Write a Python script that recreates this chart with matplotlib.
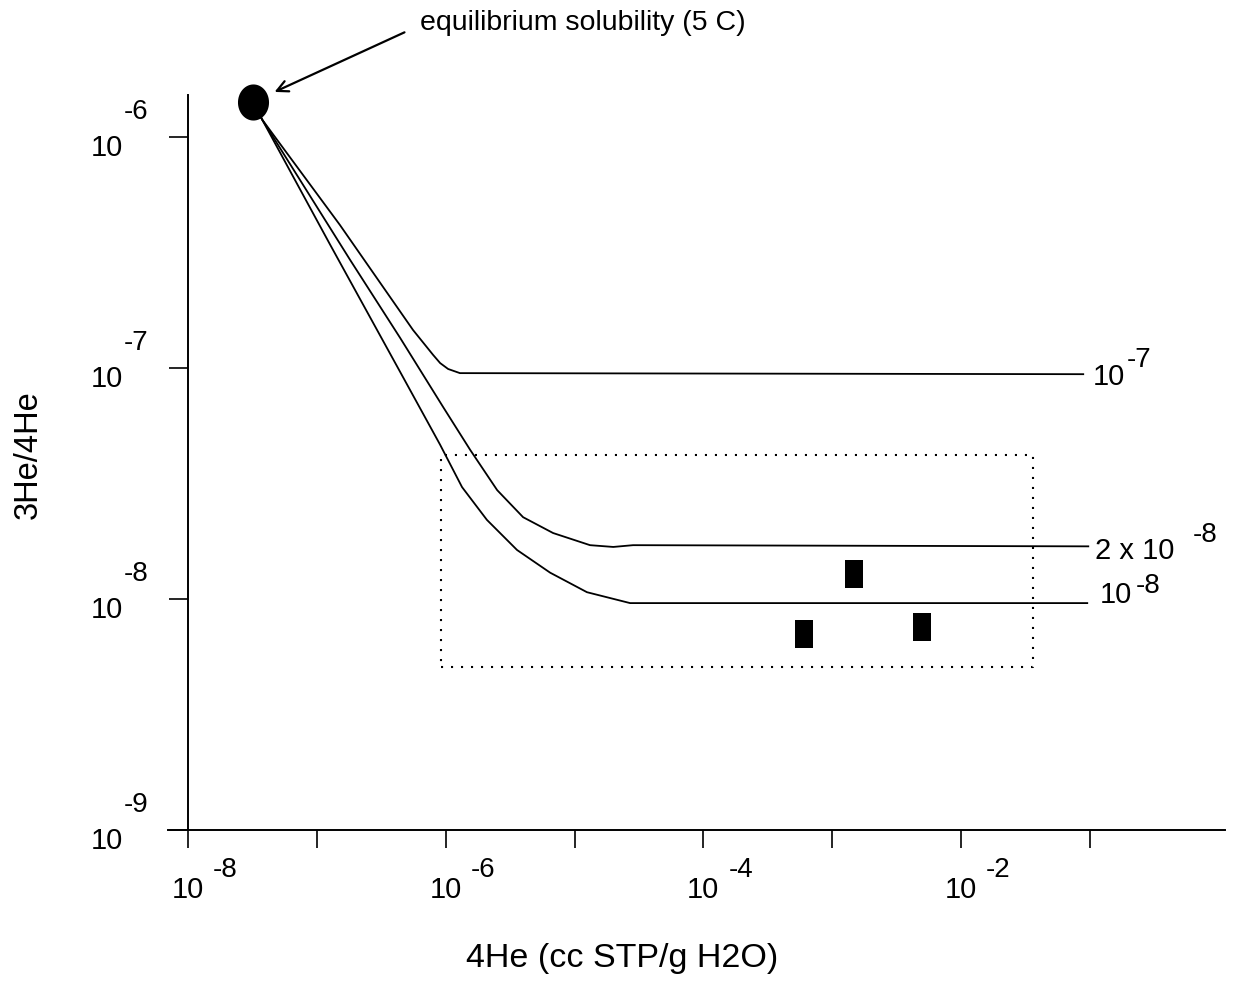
import numpy as np
import matplotlib
matplotlib.use("Agg")
import matplotlib.pyplot as plt
from matplotlib.path import Path

plt.rcParams['font.family'] = ['Liberation Sans', 'DejaVu Sans']

# equilibrium solubility point (5 C)
eq_he4 = 3.2e-8
eq_ratio = 1.42e-6

# mixing curves
c1_x = [3.20e-8, 3.76e-8, 1.51e-7, 5.58e-7, 7.98e-7, 9.06e-7, 1.045e-6, 1.29e-6, 0.0889]
c1_y = [1.42e-6, 1.19e-6, 4.16e-7, 1.46e-7, 1.14e-7, 1.05e-7, 9.9e-8, 9.5e-8, 9.4e-8]

c2_x = [3.20e-8, 3.76e-8, 1.81e-7, 4.43e-7, 9.55e-7, 1.55e-6, 2.51e-6, 3.99e-6,
        6.82e-6, 1.32e-5, 2.0e-5, 2.85e-5, 0.0973]
c2_y = [1.42e-6, 1.19e-6, 2.94e-7, 1.35e-7, 6.78e-8, 4.42e-8, 2.96e-8, 2.26e-8,
        1.93e-8, 1.71e-8, 1.68e-8, 1.71e-8, 1.69e-8]

c3_x = [3.20e-8, 3.76e-8, 1.26e-7, 4.43e-7, 9.06e-7, 1.34e-6, 2.09e-6, 3.58e-6,
        6.47e-6, 1.25e-5, 2.70e-5, 0.0955]
c3_y = [1.42e-6, 1.19e-6, 3.44e-7, 9.62e-8, 4.65e-8, 3.05e-8, 2.20e-8, 1.63e-8,
        1.30e-8, 1.07e-8, 9.6e-9, 9.6e-9]

curve_base = ["10", "2 x 10", "10"]
curve_exp = ["-7", "-8", "-8"]

# samples
samp_x = [6.07e-4, 1.47e-3, 5.0e-3]
samp_y = [7.05e-9, 1.28e-8, 7.6e-9]

# dotted box
box_x = [9.2e-7, 0.0361]
box_y = [5.1e-9, 4.2e-8]

xticks = [1e-8, 1e-7, 1e-6, 1e-5, 1e-4, 1e-3, 1e-2, 1e-1]
xlab_ticks = [1e-8, 1e-6, 1e-4, 1e-2]
xlab_exp = ["-8", "-6", "-4", "-2"]
yticks = [1e-9, 1e-8, 1e-7, 1e-6]
ylab_exp = ["-9", "-8", "-7", "-6"]

fig = plt.figure(figsize=(12.33, 9.86), dpi=100)
ax = fig.add_axes([0.1363, 0.1582, 0.8572, 0.7455])
ax.set_xscale('log')
ax.set_yscale('log')
ax.set_xlim(7.0e-9, 1.12)
ax.set_ylim(1e-9, 1.52e-6)

for s in ['top', 'right']:
    ax.spines[s].set_visible(False)
ax.spines['left'].set_position(('data', 1e-8))
ax.spines['left'].set_linewidth(1.4)
ax.spines['bottom'].set_linewidth(1.4)

ax.set_xticks(xticks)
ax.set_xticklabels([''] * len(xticks))
ax.set_yticks(yticks)
ax.set_yticklabels([''] * len(yticks))
ax.minorticks_off()
ax.tick_params(axis='x', direction='out', length=13, width=1.2)
ax.tick_params(axis='y', direction='out', length=14, width=1.2)

# tick labels drawn by hand: "10" with a full-size exponent beside it
for t, e in zip(xlab_ticks, xlab_exp):
    ax.annotate("10", xy=(t, 0), xycoords=ax.get_xaxis_transform(),
                xytext=(0, -43), textcoords='offset points',
                ha='center', va='center', fontsize=21)
    ax.annotate(e, xy=(t, 0), xycoords=ax.get_xaxis_transform(),
                xytext=(18, -29), textcoords='offset points',
                ha='left', va='center', fontsize=20)
for t, e in zip(yticks, ylab_exp):
    ax.annotate("10", xy=(1e-8, t), xycoords='data',
                xytext=(-47, -8), textcoords='offset points',
                ha='right', va='center', fontsize=21)
    ax.annotate(e, xy=(1e-8, t), xycoords='data',
                xytext=(-46, 18), textcoords='offset points',
                ha='left', va='center', fontsize=20)

# curves with their end labels
base_dx = [7, 5, 9]
base_dy = [-2, -3, 6]
exp_dx = [31, 75, 35]
exp_dy = [10, 8, 12]
for i, (cx, cy) in enumerate(zip([c1_x, c2_x, c3_x], [c1_y, c2_y, c3_y])):
    ax.plot(cx, cy, color='black', lw=1.3, solid_joinstyle='round')
    ax.annotate(curve_base[i], xy=(cx[-1], cy[-1]), xytext=(base_dx[i], base_dy[i]),
                textcoords='offset points', ha='left', va='center', fontsize=21)
    ax.annotate(curve_exp[i], xy=(cx[-1], cy[-1]), xytext=(exp_dx[i], exp_dy[i]),
                textcoords='offset points', ha='left', va='center', fontsize=20)

# dotted box
ax.plot([box_x[0], box_x[1], box_x[1], box_x[0], box_x[0]],
        [box_y[0], box_y[0], box_y[1], box_y[1], box_y[0]],
        color='black', lw=1.5, linestyle=(0, (1, 3.8)))

# sample bars
rect = [(-0.315, -0.5), (0.315, -0.5), (0.315, 0.5), (-0.315, 0.5), (-0.315, -0.5)]
ax.plot(samp_x, samp_y, linestyle='none', marker=rect, markersize=19.5,
        color='black', markeredgewidth=0)

# equilibrium point
t = np.linspace(0, 2 * np.pi, 60)
ell = np.column_stack([0.43 * np.cos(t), 0.5 * np.sin(t)])
ax.plot([eq_he4], [eq_ratio], linestyle='none', marker=Path(ell), markersize=26,
        color='black', markeredgewidth=0, zorder=5, clip_on=False)

ax.annotate('', xy=(eq_he4, eq_ratio), xytext=(109, 50), textcoords='offset points',
            arrowprops=dict(arrowstyle='->', lw=1.6, color='black',
                            shrinkA=0, shrinkB=17, mutation_scale=20))
ax.annotate('equilibrium solubility (5 C)', xy=(eq_he4, eq_ratio),
            xytext=(120, 57), textcoords='offset points',
            ha='left', va='center', fontsize=20.5)

fig.text(622 / 1233, 1 - 958 / 986, '4He (cc STP/g H2O)', ha='center', va='center',
         fontsize=24.5)
fig.text(28 / 1233, 1 - 455 / 986, '3He/4He', ha='center', va='center',
         rotation=90, fontsize=23.5)

fig.savefig('out.png', dpi=100, facecolor='white')
